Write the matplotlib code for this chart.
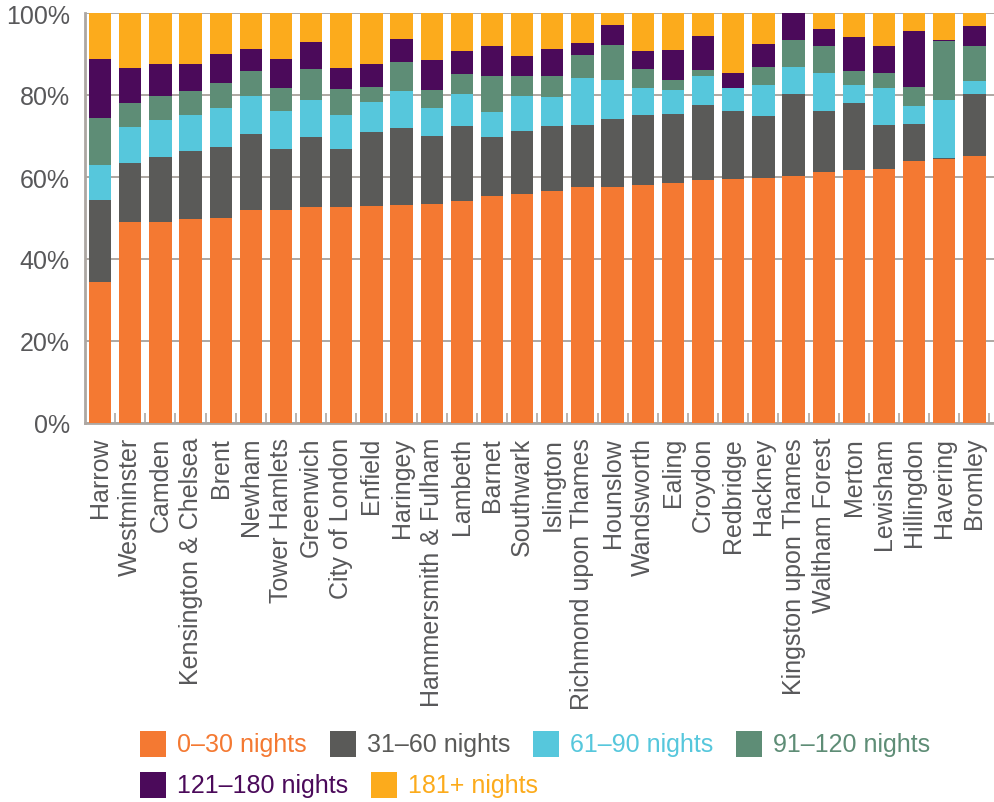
import numpy as np
import matplotlib
matplotlib.use('Agg')
import matplotlib.pyplot as plt
import matplotlib.patches as patches

plt.rcParams['font.family'] = ['Liberation Sans', 'DejaVu Sans']

boroughs = ["Harrow", "Westminster", "Camden", "Kensington & Chelsea", "Brent",
            "Newham", "Tower Hamlets", "Greenwich", "City of London", "Enfield",
            "Haringey", "Hammersmith & Fulham", "Lambeth", "Barnet", "Southwark",
            "Islington", "Richmond upon Thames", "Hounslow", "Wandsworth", "Ealing",
            "Croydon", "Redbridge", "Hackney", "Kingston upon Thames", "Waltham Forest",
            "Merton", "Lewisham", "Hillingdon", "Havering", "Bromley"]

# share of listings (%) by nights booked per year
n0_30 = [34.4, 49.0, 49.0, 49.8, 50.0, 52.0, 52.0, 52.7, 52.7, 52.9,
         53.2, 53.4, 54.1, 55.4, 55.9, 56.6, 57.6, 57.6, 58.0, 58.5,
         59.3, 59.5, 59.8, 60.2, 61.2, 61.7, 62.0, 63.9, 64.4, 65.1]
n31_60 = [20.0, 14.4, 15.9, 16.5, 17.3, 18.5, 14.8, 17.1, 14.1, 18.1,
          18.8, 16.6, 18.3, 14.4, 15.3, 15.8, 15.1, 16.5, 17.1, 16.9,
          18.3, 16.6, 15.1, 20.0, 14.9, 16.3, 10.7, 9.0, 0.2, 15.1]
n61_90 = [8.5, 8.8, 9.0, 8.8, 9.5, 9.3, 9.3, 9.0, 8.3, 7.3,
          9.0, 6.8, 7.8, 6.1, 8.6, 7.1, 11.4, 9.6, 6.6, 5.8,
          7.0, 5.6, 7.5, 6.6, 9.3, 4.4, 9.0, 4.4, 14.2, 3.2]
n91_120 = [11.5, 5.8, 5.9, 5.9, 6.1, 6.1, 5.6, 7.5, 6.4, 3.7,
           7.0, 4.4, 4.9, 8.7, 4.8, 5.1, 5.7, 8.5, 4.6, 2.5,
           1.5, 0.0, 4.4, 6.6, 6.6, 3.5, 3.7, 4.7, 14.4, 8.6]
n121_180 = [14.4, 8.6, 7.8, 6.6, 7.1, 5.3, 7.1, 6.6, 5.1, 5.6,
            5.7, 7.3, 5.6, 7.4, 4.9, 6.6, 2.9, 4.9, 4.4, 7.3,
            8.3, 3.7, 5.6, 6.6, 4.1, 8.2, 6.6, 13.6, 0.2, 4.8]
n181 = [11.2, 13.4, 12.4, 12.4, 10.0, 8.8, 11.2, 7.1, 13.4, 12.4,
        6.3, 11.5, 9.3, 8.0, 10.5, 8.8, 7.3, 2.9, 9.3, 9.0,
        5.6, 14.6, 7.6, 0.0, 3.9, 5.9, 8.0, 4.4, 6.6, 3.2]

series_labels = ["0\u201330 nights", "31\u201360 nights", "61\u201390 nights",
                 "91\u2013120 nights", "121\u2013180 nights", "181+ nights"]
colors = ['#F47932', '#5A5A58', '#56C7DC', '#5E8D76', '#4B0A5A', '#FCAB1C']

grey = '#ADA7A2'
text_col = '#58585A'

W, H = 994, 803
fig = plt.figure(figsize=(W / 100, H / 100), dpi=100)
ax = fig.add_axes([85 / W, 1 - 424 / H, 909 / W, 410 / H])

x = np.arange(len(boroughs))
bottom = np.zeros(len(boroughs))
for vals, col in zip([n0_30, n31_60, n61_90, n91_120, n121_180, n181], colors):
    vals = np.array(vals)
    ax.bar(x, vals, width=0.74, bottom=bottom, color=col, zorder=3)
    bottom += vals

ax.set_xlim(-0.5, 29.65)
ax.set_ylim(0, 100)

ax.set_yticks([0, 20, 40, 60, 80, 100])
ax.set_yticklabels(['0%', '20%', '40%', '60%', '80%', '100%'])
ax.yaxis.grid(True, color=grey, linewidth=1.4, zorder=0)
ax.set_axisbelow(True)

ax.set_xticks(x)
ax.set_xticklabels(boroughs, rotation=90, va='top', ha='center')
ax.set_xticks(np.arange(-0.5, 30, 1)[1:], minor=True)
ax.tick_params(axis='x', which='major', length=0, pad=10, labelsize=18, colors=text_col)
ax.tick_params(axis='x', which='minor', direction='in', length=7, width=1.2, color=grey)
ax.tick_params(axis='y', length=0, pad=11, labelsize=18, colors=text_col)

for s in ['top', 'right']:
    ax.spines[s].set_visible(False)
for s in ['left', 'bottom']:
    ax.spines[s].set_color(grey)
    ax.spines[s].set_linewidth(2)

# legend laid out as flowing rows, coloured text
fig.canvas.draw()
renderer = fig.canvas.get_renderer()
rows = [[0, 1, 2, 3], [4, 5]]
row_y = [745, 786]
sq = 26
for row, yc in zip(rows, row_y):
    xpos = 140
    for i in row:
        fig.patches.append(patches.Rectangle((xpos / W, 1 - (yc + sq / 2) / H), sq / W, sq / H,
                                             transform=fig.transFigure, facecolor=colors[i],
                                             edgecolor='none'))
        t = fig.text((xpos + sq + 11) / W, 1 - yc / H, series_labels[i], color=colors[i],
                     fontsize=18, va='center', ha='left')
        bb = t.get_window_extent(renderer)
        xpos = bb.x1 + 23

fig.savefig('out.png', dpi=100)
